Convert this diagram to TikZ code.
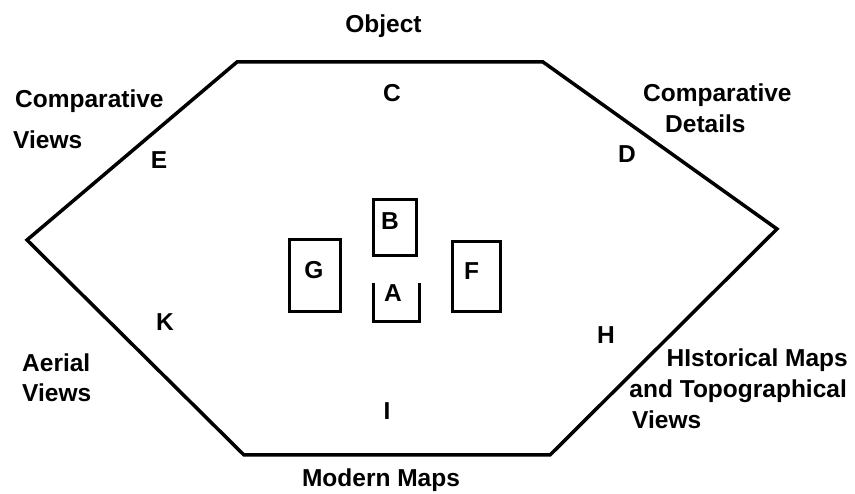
\documentclass[tikz,border=0pt]{standalone}
\usepackage{fontspec}
\setmainfont{Liberation Sans}
\usetikzlibrary{positioning}

\begin{document}
\begin{tikzpicture}[x=1pt,y=-1pt,
  lbl/.style={font=\bfseries\fontsize{24.5}{31}\selectfont,inner sep=0pt},
  case/.style={draw,line width=3pt,inner sep=0pt}]
\useasboundingbox (0,0) rectangle (855,494);

% Room outline (hexagon)
\coordinate (tl) at (237,62);
\coordinate (tr) at (543,62);
\coordinate (rt) at (777,229);
\coordinate (br) at (550,455);
\coordinate (bl) at (244,455);
\coordinate (lf) at (27,240);
\draw[line width=3.5pt,line join=miter] (tl)--(tr)--(rt)--(br)--(bl)--(lf)--cycle;

% Display cases in the middle
\node[case,minimum width=43pt,minimum height=56pt] (boxB) at (394.5,227.5) {};
\node[case,minimum width=51pt,minimum height=72pt] (boxG) at (315,275.5) {};
\node[case,minimum width=48pt,minimum height=70pt] (boxF) at (476.5,276.5) {};
\node[inner sep=0pt,minimum width=45pt,minimum height=38pt] (boxA) at (396.5,302) {};
\draw[line width=3pt] (boxA.north west)--(boxA.south west)--(boxA.south east)--(boxA.north east);

% Letters
\node[lbl] (ltrB) at (390,221) {B};
\node[lbl] (ltrG) at (314,270) {G};
\node[lbl] (ltrF) at (471.5,271) {F};
\node[lbl] (ltrA) at (393,293) {A};
\node[lbl] (ltrC) at (392,93.5) {C};
\node[lbl] (ltrE) at (159,160) {E};
\node[lbl] (ltrD) at (627,154) {D};
\node[lbl] (ltrK) at (165,322) {K};
\node[lbl] (ltrH) at (606,335) {H};
\node[lbl] (ltrI) at (387,411) {I};

% Wall captions
\node[lbl,anchor=base] (object) at (383.5,33) {Object};
\node[lbl,anchor=base] (modern) at (381,487) {Modern Maps};
\node[lbl,anchor=base west] (compV1) at (15,108) {Comparative};
\node[lbl,anchor=base west] (compV2) at (13,149) {Views};
\node[lbl,anchor=base west] (compD1) at (643,102) {Comparative};
\node[lbl,anchor=base west] (compD2) at (665,133) {Details};
\node[lbl,anchor=base west] (aerial1) at (22,372) {Aerial};
\node[lbl,anchor=base west] (aerial2) at (22,402) {Views};
\node[lbl,anchor=base east] (hist1) at (848,367) {HIstorical Maps};
\node[lbl,anchor=base east] (hist2) at (847,398) {and Topographical};
\node[lbl,anchor=base west] (hist3) at (632,429) {Views};

\end{tikzpicture}
\end{document}
